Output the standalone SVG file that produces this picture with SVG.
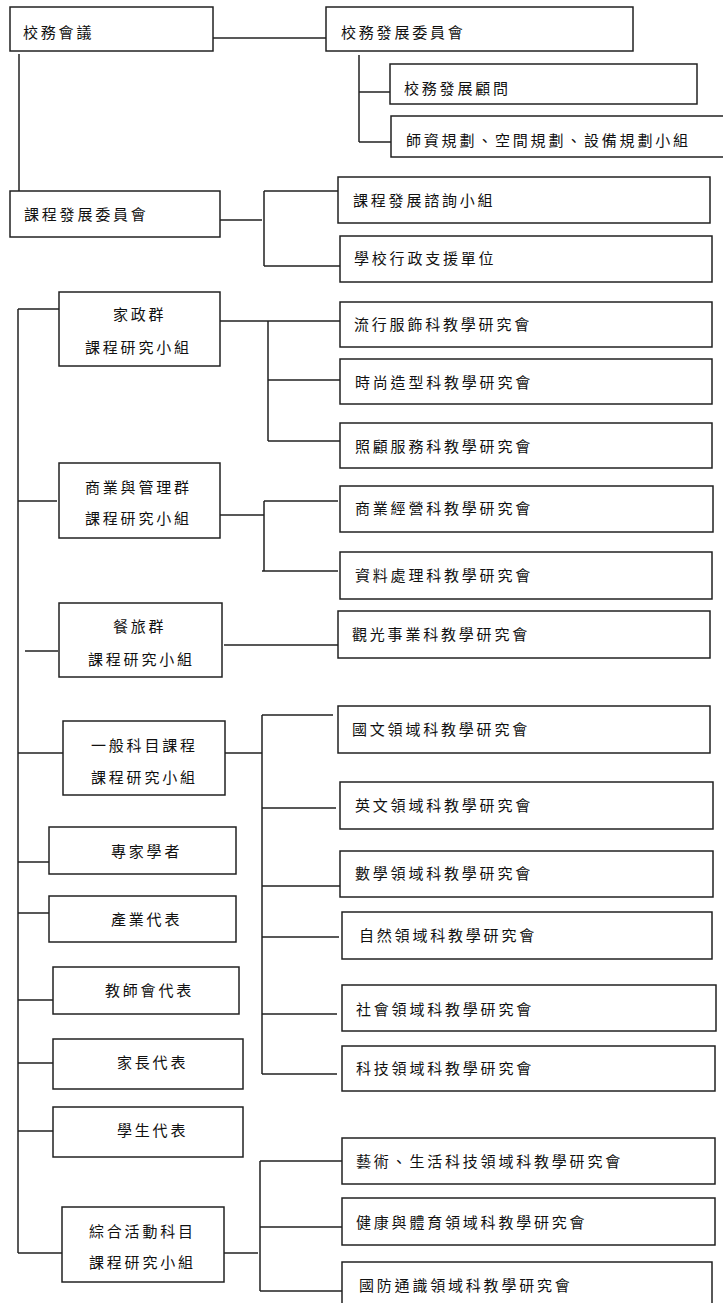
<svg xmlns="http://www.w3.org/2000/svg" width="723" height="1303" viewBox="0 0 723 1303">
<style>
rect{fill:#fff;stroke:#222;stroke-width:1.5}
#connectors path{fill:none;stroke:#222;stroke-width:1.5}
text{font-family:"Noto Sans CJK TC","Noto Sans CJK SC",sans-serif;font-size:15px;letter-spacing:2.8px;fill:#111}
</style>
<rect x="0" y="0" width="723" height="1303" style="fill:#fff;stroke:none"/>
<g id="connectors">
<path d="M213 38H326"/>
<path d="M359 55V142M359 92H390M359 142H391"/>
<path d="M19 54V191"/>
<path d="M220 220H262M264 191V266M264 191H338M264 266H340"/>
<path d="M18 309V1253"/>
<path d="M18 309H59M220 321H340M268 321V441M268 380H340M268 441H340"/>
<path d="M18 501H57M220 515H264M264 501V571M264 501H338M262 571H338"/>
<path d="M25 651H58M224 645H338"/>
<path d="M18 753H63M225 753H262M262 715V1074M262 715H333M262 808H336M262 886H340M262 937H339M262 1014H337M262 1074H337"/>
<path d="M18 862H49M18 913H49M18 1000H53M18 1063H53M18 1131H53M18 1253H62"/>
<path d="M224 1253H258M260 1161V1291M260 1161H342M260 1227H342M260 1291H342"/>
</g>
<g id="n1"><rect x="10" y="7" width="203" height="44"/><text x="23" y="38">校務會議</text></g>
<g id="n2"><rect x="326" y="7" width="307" height="44"/><text x="341" y="38">校務發展委員會</text></g>
<g id="n3"><rect x="390" y="64" width="307" height="40"/><text x="404" y="94">校務發展顧問</text></g>
<g id="n4"><rect x="391" y="116" width="340" height="41"/><text x="406" y="146">師資規劃、空間規劃、設備規劃小組</text></g>
<g id="n5"><rect x="10" y="191" width="210" height="46"/><text x="24" y="220">課程發展委員會</text></g>
<g id="n6"><rect x="338" y="177" width="372" height="46"/><text x="353" y="206">課程發展諮詢小組</text></g>
<g id="n7"><rect x="340" y="236" width="372" height="46"/><text x="354" y="264">學校行政支援單位</text></g>
<g id="n8"><rect x="59" y="292" width="161" height="74"/><text x="113" y="320">家政群</text><text x="85" y="353">課程研究小組</text></g>
<g id="n9"><rect x="340" y="302" width="372" height="45"/><text x="354" y="330">流行服飾科教學研究會</text></g>
<g id="n10"><rect x="340" y="359" width="372" height="45"/><text x="355" y="388">時尚造型科教學研究會</text></g>
<g id="n11"><rect x="340" y="423" width="372" height="45"/><text x="355" y="452">照顧服務科教學研究會</text></g>
<g id="n12"><rect x="59" y="463" width="161" height="75"/><text x="85" y="493">商業與管理群</text><text x="85" y="524">課程研究小組</text></g>
<g id="n13"><rect x="340" y="486" width="373" height="46"/><text x="355" y="514">商業經營科教學研究會</text></g>
<g id="n14"><rect x="340" y="552" width="372" height="47"/><text x="355" y="581">資料處理科教學研究會</text></g>
<g id="n15"><rect x="59" y="603" width="163" height="74"/><text x="113" y="632">餐旅群</text><text x="88" y="665">課程研究小組</text></g>
<g id="n16"><rect x="338" y="611" width="372" height="47"/><text x="352" y="640">觀光事業科教學研究會</text></g>
<g id="n17"><rect x="63" y="721" width="162" height="74"/><text x="91" y="751">一般科目課程</text><text x="91" y="783">課程研究小組</text></g>
<g id="n18"><rect x="338" y="706" width="372" height="47"/><text x="352" y="735">國文領域科教學研究會</text></g>
<g id="n19"><rect x="340" y="782" width="373" height="47"/><text x="355" y="811">英文領域科教學研究會</text></g>
<g id="n20"><rect x="49" y="827" width="187" height="47"/><text x="111" y="857">專家學者</text></g>
<g id="n21"><rect x="340" y="851" width="373" height="46"/><text x="355" y="879">數學領域科教學研究會</text></g>
<g id="n22"><rect x="49" y="896" width="187" height="46"/><text x="111" y="925">產業代表</text></g>
<g id="n23"><rect x="342" y="912" width="370" height="47"/><text x="359" y="941">自然領域科教學研究會</text></g>
<g id="n24"><rect x="53" y="967" width="186" height="47"/><text x="105" y="996">教師會代表</text></g>
<g id="n25"><rect x="342" y="985" width="374" height="46"/><text x="356" y="1015">社會領域科教學研究會</text></g>
<g id="n26"><rect x="53" y="1039" width="190" height="50"/><text x="117" y="1068">家長代表</text></g>
<g id="n27"><rect x="342" y="1046" width="373" height="45"/><text x="356" y="1074">科技領域科教學研究會</text></g>
<g id="n28"><rect x="53" y="1107" width="190" height="50"/><text x="117" y="1136">學生代表</text></g>
<g id="n29"><rect x="342" y="1138" width="373" height="46"/><text x="356" y="1167">藝術、生活科技領域科教學研究會</text></g>
<g id="n30"><rect x="62" y="1207" width="162" height="75"/><text x="89" y="1237">綜合活動科目</text><text x="89" y="1268">課程研究小組</text></g>
<g id="n31"><rect x="342" y="1198" width="373" height="47"/><text x="356" y="1228">健康與體育領域科教學研究會</text></g>
<g id="n32"><rect x="342" y="1262" width="370" height="50"/><text x="359" y="1291">國防通識領域科教學研究會</text></g>
</svg>
